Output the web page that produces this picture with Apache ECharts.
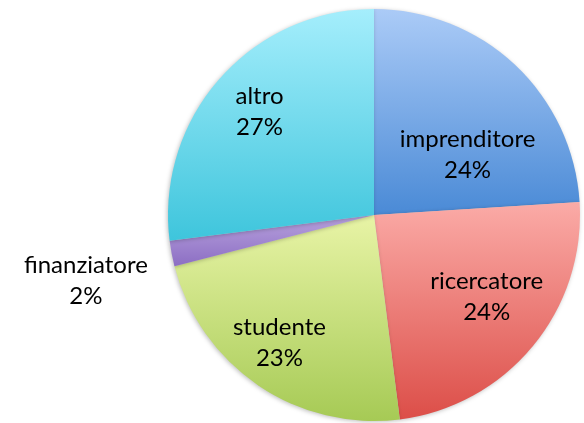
<!DOCTYPE html>
<html lang="it">

<head>
    <meta charset="UTF-8">
    <title>Pie</title>
    <script src="https://cdn.jsdelivr.net/npm/echarts@6/dist/echarts.min.js"></script>
    <style>
        * {
            margin: 0;
            padding: 0
        }

        html,
        body {
            width: 100%;
            height: 100%;
            background: #fff;
        }

        #main {
            width: 584px;
            height: 423px;
        }
    </style>
</head>

<body>
    <div id="main"></div>
    <script type="text/javascript">
        var categories = ['imprenditore', 'ricercatore', 'studente', 'finanziatore', 'altro'];
        var percents = [24, 24, 23, 2, 27];

        // colori sfumati (alto -> basso) per ogni fetta
        var topColors = ['#abcbf7', '#fbaba7', '#e8f4a6', '#b8a2de', '#a5eefc'];
        var bottomColors = ['#4a8ad6', '#dc4e48', '#a6ca55', '#8c6ec3', '#3ec5dc'];
        // spostamento etichette per imitare la posizione originale
        var labelOffsets = [[21, 17], [31, 14], [-35, 40], [-184, 46], [-35, -33]];

        var myChart = echarts.init(document.getElementById('main'));

        var dataList = categories.map(function (name, i) {
            return {
                name: name,
                value: percents[i],
                itemStyle: {
                    color: new echarts.graphic.LinearGradient(0, 0, 0, 1, [
                        { offset: 0, color: topColors[i] },
                        { offset: 1, color: bottomColors[i] }
                    ])
                },
                label: { offset: labelOffsets[i] }
            };
        });

        var option = {
            animation: false,
            series: [
                {
                    type: 'pie',
                    center: [374, 215],
                    radius: 206,
                    startAngle: 90,
                    clockwise: true,
                    data: dataList,
                    itemStyle: {
                        borderWidth: 0,
                        shadowBlur: 4,
                        shadowOffsetX: -1,
                        shadowOffsetY: 1,
                        shadowColor: 'rgba(0,0,0,0.25)'
                    },
                    label: {
                        show: true,
                        position: 'inside',
                        formatter: '{b}\n{c}%',
                        color: '#000',
                        fontFamily: 'Lato',
                        fontSize: 24,
                        lineHeight: 31
                    },
                    labelLine: { show: false },
                    emphasis: { disabled: true }
                }
            ]
        };

        myChart.setOption(option);
    </script>
</body>

</html>
